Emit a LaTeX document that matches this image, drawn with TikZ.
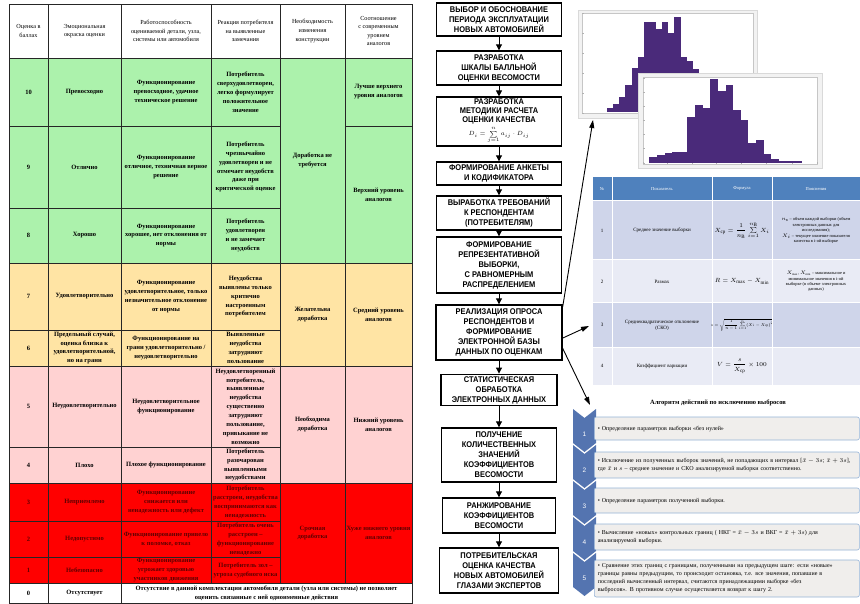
\documentclass[tikz,border=0pt]{standalone}
\usepackage{amsmath}
\usepackage{fontspec}
\setmainfont{Liberation Serif}
\setsansfont{Liberation Sans}
\newfontfamily\flowfont[FakeStretch=0.9]{Liberation Sans}
\usetikzlibrary{
    arrows.meta,   % Required for "Triangle" arrowheads
    calc           % Required for coordinate calculations
}

\definecolor{tgreen}{RGB}{172,242,172}
\definecolor{tyellow}{RGB}{255,228,164}
\definecolor{tpink}{RGB}{255,210,210}
\definecolor{tred}{RGB}{255,0,0}
\definecolor{tdarkred}{RGB}{95,0,0}
\definecolor{histpurple}{RGB}{74,42,122}
\definecolor{headblue}{RGB}{79,129,189}
\definecolor{rowdark}{RGB}{207,213,234}
\definecolor{rowlight}{RGB}{233,235,245}
\definecolor{chevblue}{RGB}{84,116,176}
\definecolor{stepgray}{RGB}{240,238,236}
\definecolor{stepline}{RGB}{149,179,215}

\tikzset{
    gridcell/.style={draw=black!85, line width=0.5pt},
    paramcell/.style={draw=white, line width=1pt},
    gridtext/.style={align=center, inner sep=1pt, font=\fontsize{6.5}{8.9}\selectfont\bfseries},
    headtext/.style={align=center, inner sep=1pt, font=\fontsize{6.2}{8.6}\selectfont},
    redtext/.style={gridtext, text=tdarkred},
    phead/.style={align=center, inner sep=1pt, text=white, font=\fontsize{4.5}{5.5}\selectfont},
    ptext/.style={align=center, inner sep=1pt, font=\fontsize{5}{6}\selectfont},
    notetext/.style={align=center, inner sep=1pt, font=\fontsize{4.4}{5.4}\selectfont},
    formtext/.style={align=center, inner sep=1pt, font=\fontsize{6}{7}\selectfont},
    histframe/.style={draw=gray!30, fill=gray!10, line width=0.8pt},
    histplot/.style={draw=gray!45, fill=white, line width=0.3pt},
    histtick/.style={draw=gray!60, line width=0.3pt},
    histbar/.style={fill=histpurple},
    flowbox/.style={draw, line width=1.4pt, fill=white, align=center, inner sep=2pt,
        font=\flowfont\bfseries\fontsize{8.3}{10}\selectfont},
    flowarrow/.style={line width=1pt, -{Triangle[width=6pt,length=6pt]}},
    longarrow/.style={line width=0.9pt, -{Triangle[width=5pt,length=8pt]}},
    algotitle/.style={font=\fontsize{6.5}{8}\selectfont\bfseries},
    stepbox/.style={draw=stepline, fill=stepgray, line width=0.6pt, rounded corners=2pt,
        anchor=west, minimum width=265pt, text width=258pt, align=left, inner sep=3.5pt,
        font=\fontsize{6}{7.9}\selectfont},
    stepnum/.style={text=white, font=\sffamily\fontsize{6.5}{7}\selectfont}
}

% one table cell: name, cell style, text style, x, y, w, h, text
\newcommand{\gcell}[8]{%
    \draw[#2] (#4,#5) rectangle ++(#6,#7);
    \node[#3] (#1) at ({#4+#6/2},{#5+#7/2}) {#8};
}

\begin{document}
\begin{tikzpicture}[x=1pt, y=-1pt]
    \useasboundingbox (0,0) rectangle (860,604);
    \fill[white] (0,0) rectangle (860,604);

    % Rating scale table
    \gcell{h1}{gridcell,fill=white}{headtext}{9}{4}{39}{54}{Оценка в\\баллах}
    \gcell{h2}{gridcell,fill=white}{headtext}{48}{4}{73}{54}{Эмоциональная\\окраска оценки}
    \gcell{h3}{gridcell,fill=white}{headtext}{121}{4}{90}{54}{Работоспособность\\оцениваемой детали, узла,\\системы или автомобиля}
    \gcell{h4}{gridcell,fill=white}{headtext}{211}{4}{69}{54}{Реакция потребителя\\на выявленные\\замечания}
    \gcell{h5}{gridcell,fill=white}{headtext}{280}{4}{65}{54}{Необходимость\\изменения\\конструкции}
    \gcell{h6}{gridcell,fill=white}{headtext}{345}{4}{67}{54}{Соотношение\\с современным\\уровнем\\аналогов}

    \gcell{r10a}{gridcell,fill=tgreen}{gridtext}{9}{58}{39}{68}{10}
    \gcell{r10b}{gridcell,fill=tgreen}{gridtext}{48}{58}{73}{68}{Превосходно}
    \gcell{r10c}{gridcell,fill=tgreen}{gridtext}{121}{58}{90}{68}{Функционирование\\превосходное, удачное\\техническое решение}
    \gcell{r10d}{gridcell,fill=tgreen}{gridtext}{211}{58}{69}{68}{Потребитель\\сверхудовлетворен,\\легко формулирует\\положительное\\значение}
    \gcell{r9a}{gridcell,fill=tgreen}{gridtext}{9}{126}{39}{82}{9}
    \gcell{r9b}{gridcell,fill=tgreen}{gridtext}{48}{126}{73}{82}{Отлично}
    \gcell{r9c}{gridcell,fill=tgreen}{gridtext}{121}{126}{90}{82}{Функционирование\\отличное, техничная верное\\решение}
    \gcell{r9d}{gridcell,fill=tgreen}{gridtext}{211}{126}{69}{82}{Потребитель\\чрезвычайно\\удовлетворен и не\\отмечает неудобств\\даже при\\критической оценке}
    \gcell{r8a}{gridcell,fill=tgreen}{gridtext}{9}{208}{39}{55}{8}
    \gcell{r8b}{gridcell,fill=tgreen}{gridtext}{48}{208}{73}{55}{Хорошо}
    \gcell{r8c}{gridcell,fill=tgreen}{gridtext}{121}{208}{90}{55}{Функционирование\\хорошее, нет отклонения от\\нормы}
    \gcell{r8d}{gridcell,fill=tgreen}{gridtext}{211}{208}{69}{55}{Потребитель\\удовлетворен\\и не замечает\\неудобств}
    \gcell{g5}{gridcell,fill=tgreen}{gridtext}{280}{58}{65}{205}{Доработка не\\требуется}
    \gcell{g6a}{gridcell,fill=tgreen}{gridtext}{345}{58}{67}{68}{Лучше верхнего\\уровня аналогов}
    \gcell{g6b}{gridcell,fill=tgreen}{gridtext}{345}{126}{67}{137}{Верхний уровень\\аналогов}

    \gcell{r7a}{gridcell,fill=tyellow}{gridtext}{9}{263}{39}{67}{7}
    \gcell{r7b}{gridcell,fill=tyellow}{gridtext}{48}{263}{73}{67}{Удовлетворительно}
    \gcell{r7c}{gridcell,fill=tyellow}{gridtext}{121}{263}{90}{67}{Функционирование\\удовлетворительное, только\\незначительное отклонение\\от нормы}
    \gcell{r7d}{gridcell,fill=tyellow}{gridtext}{211}{263}{69}{67}{Неудобства\\выявлены только\\критично\\настроенным\\потребителем}
    \gcell{r6a}{gridcell,fill=tyellow}{gridtext}{9}{330}{39}{36}{6}
    \gcell{r6b}{gridcell,fill=tyellow}{gridtext}{48}{330}{73}{36}{Предельный случай,\\оценка близка к\\удовлетворительной,\\но на грани}
    \gcell{r6c}{gridcell,fill=tyellow}{gridtext}{121}{330}{90}{36}{Функционирование на\\грани удовлетворительно /\\неудовлетворительно}
    \gcell{r6d}{gridcell,fill=tyellow}{gridtext}{211}{330}{69}{36}{Выявленные\\неудобства\\затрудняют\\пользование}
    \gcell{y5}{gridcell,fill=tyellow}{gridtext}{280}{263}{65}{103}{Желательна\\доработка}
    \gcell{y6}{gridcell,fill=tyellow}{gridtext}{345}{263}{67}{103}{Средний уровень\\аналогов}

    \gcell{r5a}{gridcell,fill=tpink}{gridtext}{9}{366}{39}{81}{5}
    \gcell{r5b}{gridcell,fill=tpink}{gridtext}{48}{366}{73}{81}{Неудовлетворительно}
    \gcell{r5c}{gridcell,fill=tpink}{gridtext}{121}{366}{90}{81}{Неудовлетворительное\\функционирование}
    \gcell{r5d}{gridcell,fill=tpink}{gridtext}{211}{366}{69}{81}{Неудовлетворенный\\потребитель,\\выявленные\\неудобства\\существенно\\затрудняют\\пользование,\\привыкание не\\возможно}
    \gcell{r4a}{gridcell,fill=tpink}{gridtext}{9}{447}{39}{36}{4}
    \gcell{r4b}{gridcell,fill=tpink}{gridtext}{48}{447}{73}{36}{Плохо}
    \gcell{r4c}{gridcell,fill=tpink}{gridtext}{121}{447}{90}{36}{Плохое функционирование}
    \gcell{r4d}{gridcell,fill=tpink}{gridtext}{211}{447}{69}{36}{Потребитель\\разочарован\\выявленными\\неудобствами}
    \gcell{p5}{gridcell,fill=tpink}{gridtext}{280}{366}{65}{117}{Необходима\\доработка}
    \gcell{p6}{gridcell,fill=tpink}{gridtext}{345}{366}{67}{117}{Нижний уровень\\аналогов}

    \gcell{r3a}{gridcell,fill=tred}{redtext}{9}{483}{39}{38}{3}
    \gcell{r3b}{gridcell,fill=tred}{redtext}{48}{483}{73}{38}{Неприемлемо}
    \gcell{r3c}{gridcell,fill=tred}{redtext}{121}{483}{90}{38}{Функционирование\\снижается или\\ненадежность или дефект}
    \gcell{r3d}{gridcell,fill=tred}{redtext}{211}{483}{69}{38}{Потребитель\\расстроен, неудобства\\воспринимаются как\\ненадежность}
    \gcell{r2a}{gridcell,fill=tred}{redtext}{9}{521}{39}{36}{2}
    \gcell{r2b}{gridcell,fill=tred}{redtext}{48}{521}{73}{36}{Недопустимо}
    \gcell{r2c}{gridcell,fill=tred}{redtext}{121}{521}{90}{36}{Функционирование привело\\к поломке, отказ}
    \gcell{r2d}{gridcell,fill=tred}{redtext}{211}{521}{69}{36}{Потребитель очень\\расстроен –\\функционирование\\ненадежно}
    \gcell{r1a}{gridcell,fill=tred}{redtext}{9}{557}{39}{26}{1}
    \gcell{r1b}{gridcell,fill=tred}{redtext}{48}{557}{73}{26}{Небезопасно}
    \gcell{r1c}{gridcell,fill=tred}{redtext}{121}{557}{90}{26}{Функционирование\\угрожает здоровью\\участников движения}
    \gcell{r1d}{gridcell,fill=tred}{redtext}{211}{557}{69}{26}{Потребитель зол –\\угроза судебного иска}
    \gcell{d5}{gridcell,fill=tred}{redtext}{280}{483}{65}{100}{Срочная\\доработка}
    \gcell{d6}{gridcell,fill=tred}{redtext}{345}{483}{67}{100}{Хуже нижнего уровня\\аналогов}

    \gcell{r0a}{gridcell,fill=white}{gridtext}{9}{583}{39}{20}{0}
    \gcell{r0b}{gridcell,fill=white}{gridtext}{48}{583}{73}{20}{Отсутствует}
    \gcell{r0c}{gridcell,fill=white}{gridtext}{121}{583}{291}{20}{Отсутствие в данной комплектации автомобиля детали (узла или системы) не позволяет\\оценить связанные с ней одноименные действия}

    % Parameter table
    \gcell{ph1}{paramcell,fill=headblue}{phead}{592}{177}{20}{24}{№}
    \gcell{ph2}{paramcell,fill=headblue}{phead}{612}{177}{100}{24}{Показатель}
    \gcell{ph3}{paramcell,fill=headblue}{phead}{712}{177}{60}{24}{Формула}
    \gcell{ph4}{paramcell,fill=headblue}{phead}{772}{177}{88}{24}{Пояснения}
    \gcell{p1a}{paramcell,fill=rowdark}{ptext}{592}{201}{20}{59}{1}
    \gcell{p1b}{paramcell,fill=rowdark}{ptext}{612}{201}{100}{59}{Среднее значение выборки}
    \gcell{p1c}{paramcell,fill=rowdark}{formtext}{712}{201}{60}{59}{$X_{\text{ср}}=\dfrac{1}{n_{\text{В}}}\sum\limits_{i=1}^{n_{\text{В}}}X_i$}
    \gcell{p1d}{paramcell,fill=rowdark}{notetext}{772}{201}{88}{59}{$n_{\text{В}}$ – объем каждой выборки (объем\\электронных данных для\\исследования);\\$X_i$ – текущее значение показателя\\качества в i-ой выборке}
    \gcell{p2a}{paramcell,fill=rowlight}{ptext}{592}{260}{20}{43}{2}
    \gcell{p2b}{paramcell,fill=rowlight}{ptext}{612}{260}{100}{43}{Размах}
    \gcell{p2c}{paramcell,fill=rowlight}{formtext}{712}{260}{60}{43}{$R=X_{\max}-X_{\min}$}
    \gcell{p2d}{paramcell,fill=rowlight}{notetext}{772}{260}{88}{43}{$X_{\max}$, $X_{\min}$ – максимальное и\\минимальное значения в i-ой\\выборке (в объеме электронных\\данных)}
    \gcell{p3a}{paramcell,fill=rowdark}{ptext}{592}{303}{20}{44}{3}
    \gcell{p3b}{paramcell,fill=rowdark}{ptext}{612}{303}{100}{44}{Среднеквадратическое отклонение\\(СКО)}
    \gcell{p3c}{paramcell,fill=rowdark}{formtext}{712}{303}{60}{44}{\scalebox{0.68}{$s=\sqrt{\dfrac{1}{n-1}\sum\limits_{i=1}^{n}(X_i-X_{\text{ср}})^2}$}}
    \gcell{p3d}{paramcell,fill=rowdark}{notetext}{772}{303}{88}{44}{}
    \gcell{p4a}{paramcell,fill=rowlight}{ptext}{592}{347}{20}{38}{4}
    \gcell{p4b}{paramcell,fill=rowlight}{ptext}{612}{347}{100}{38}{Коэффициент вариации}
    \gcell{p4c}{paramcell,fill=rowlight}{formtext}{712}{347}{60}{38}{$V=\dfrac{s}{X_{\text{ср}}}\times 100$}
    \gcell{p4d}{paramcell,fill=rowlight}{notetext}{772}{347}{88}{38}{}

    % Histograms
    \draw[histframe] (578,10) rectangle (757,118);
    \draw[histplot] (582,13) rectangle (753,113);
    \foreach \ty in {13,33,53,73,93,113}
        \draw[histtick] (582,\ty) -- ++(2,0);
    \foreach \top [count=\i] in {108.3,104,96.7,85,68.3,57.3,21.7,21.7,29.3,21.7,33.3,17.3,57.3,60.7,69.3}
        \fill[histbar] ({607+6.13*(\i-1)},112) rectangle ({607+6.13*\i},\top);

    \draw[histframe] (638,73) rectangle (822,168);
    \draw[histplot] (643,77) rectangle (817,164);
    \foreach \ty in {78,92,106,120,134,148,163}
        \draw[histtick] (643,\ty) -- ++(2,0);
    \foreach \tx in {643,667,692,716,741,766,792,817}
        \draw[histtick] (\tx,164) -- ++(0,-2);
    \foreach \top [count=\i] in {157.3,155,153.3,151.7,151.7,116.7,105,108.3,79.3,90.7,85,110,120,142.7,140,154,159.3,160.7,160.7,160.7}
        \fill[histbar] ({649.3+7.63*(\i-1)},163.3) rectangle ({649.3+7.63*\i},\top);

    % Flowchart
    \node[flowbox, minimum width=125pt, minimum height=33pt] (choose) at (499,19.5) {ВЫБОР И ОБОСНОВАНИЕ\\ПЕРИОДА ЭКСПЛУАТАЦИИ\\НОВЫХ АВТОМОБИЛЕЙ};
    \node[flowbox, minimum width=125pt, minimum height=34pt] (scale) at (499,68) {РАЗРАБОТКА\\ШКАЛЫ БАЛЛЬНОЙ\\ОЦЕНКИ ВЕСОМОСТИ};
    \node[flowbox, minimum width=125pt, minimum height=45pt, font=\flowfont\bfseries\fontsize{8.3}{8.8}\selectfont] (method) at (499,121.5) {РАЗРАБОТКА\\МЕТОДИКИ РАСЧЕТА\\ОЦЕНКИ КАЧЕСТВА\\[1.5pt]\fontsize{6.5}{7}\selectfont$D_i=\sum\limits_{j=1}^{n}a_{ij}\cdot D_{ij}$};
    \node[flowbox, minimum width=125pt, minimum height=23pt] (form) at (499,173.5) {ФОРМИРОВАНИЕ АНКЕТЫ\\И КОДИФИКАТОРА};
    \node[flowbox, minimum width=125pt, minimum height=34pt] (require) at (499,213) {ВЫРАБОТКА ТРЕБОВАНИЙ\\К РЕСПОНДЕНТАМ\\(ПОТРЕБИТЕЛЯМ)};
    \node[flowbox, minimum width=125pt, minimum height=56pt] (sample) at (499,265) {ФОРМИРОВАНИЕ\\РЕПРЕЗЕНТАТИВНОЙ\\ВЫБОРКИ,\\С РАВНОМЕРНЫМ\\РАСПРЕДЕЛЕНИЕМ};
    \node[flowbox, minimum width=126pt, minimum height=55pt] (realize) at (499,332.5) {РЕАЛИЗАЦИЯ ОПРОСА\\РЕСПОНДЕНТОВ И\\ФОРМИРОВАНИЕ\\ЭЛЕКТРОННОЙ БАЗЫ\\ДАННЫХ ПО ОЦЕНКАМ};
    \node[flowbox, minimum width=116pt, minimum height=30pt] (stats) at (499,390) {СТАТИСТИЧЕСКАЯ\\ОБРАБОТКА\\ЭЛЕКТРОННЫХ ДАННЫХ};
    \node[flowbox, minimum width=115pt, minimum height=54pt] (coeffs) at (499,455) {ПОЛУЧЕНИЕ\\КОЛИЧЕСТВЕННЫХ\\ЗНАЧЕНИЙ\\КОЭФФИЦИЕНТОВ\\ВЕСОМОСТИ};
    \node[flowbox, minimum width=113pt, minimum height=35pt] (rank) at (499,515.5) {РАНЖИРОВАНИЕ\\КОЭФФИЦИЕНТОВ\\ВЕСОМОСТИ};
    \node[flowbox, minimum width=119pt, minimum height=45pt] (expert) at (499,570.5) {ПОТРЕБИТЕЛЬСКАЯ\\ОЦЕНКА КАЧЕСТВА\\НОВЫХ АВТОМОБИЛЕЙ\\ГЛАЗАМИ ЭКСПЕРТОВ};

    \foreach \a/\b in {choose/scale, scale/method, method/form, form/require, require/sample,
                       sample/realize, realize/stats, stats/coeffs, coeffs/rank, rank/expert}
        \draw[flowarrow] (\a.south) -- (\a.south |- \b.north);

    % Outlier removal steps
    \node[algotitle] (algotitle) at (718,403) {Алгоритм действий по исключению выбросов};
    \foreach \t [count=\i] in {409,445,481,517,553} {
        \fill[chevblue] (573,\t) -- (584.5,\t+9) -- (596,\t) -- (596,\t+34) -- (584.5,\t+43) -- (573,\t+34) -- cycle;
        \node[stepnum] (num\i) at (584.5,\t+25) {\i};
    }
    \node[stepbox, minimum height=23pt] (step1) at (594,428.5) {• Определение параметров выборки «без нулей»};
    \node[stepbox, minimum height=26pt] (step2) at (594,465) {• Исключение из полученных выборок значений, не попадающих в интервал [$\bar{x}-3s$; $\bar{x}+3s$],\\где $\bar{x}$ и $s$ – среднее значение и СКО анализируемой выборки соответственно.};
    \node[stepbox, minimum height=25pt] (step3) at (594,500.5) {• Определение параметров полученной выборки.};
    \node[stepbox, minimum height=26pt] (step4) at (594,537) {• Вычисление «новых» контрольных границ ( НКГ = $\bar{x}-3s$ и ВКГ = $\bar{x}+3s$) для\\анализируемой выборки.};
    \node[stepbox, minimum height=37pt] (step5) at (594,578.5) {• Сравнение этих границ с границами, полученными на предыдущем шаге: если «новые»\\границы равны предыдущим, то происходит остановка, т.е. все значения, попавшие в\\последний вычисленный интервал, считаются принадлежащими выборке «без\\выбросов». В противном случае осуществляется возврат к шагу 2.};

    % Links from the survey box
    \coordinate (histtip) at (593,120);
    \coordinate (tabletip) at (589,326);
    \coordinate (algotip) at (590,405);
    \draw[longarrow] (realize.22) -- (histtip);
    \draw[longarrow] (realize.-5) -- (tabletip);
    \draw[longarrow] (realize.-14) -- (algotip);
\end{tikzpicture}
\end{document}
